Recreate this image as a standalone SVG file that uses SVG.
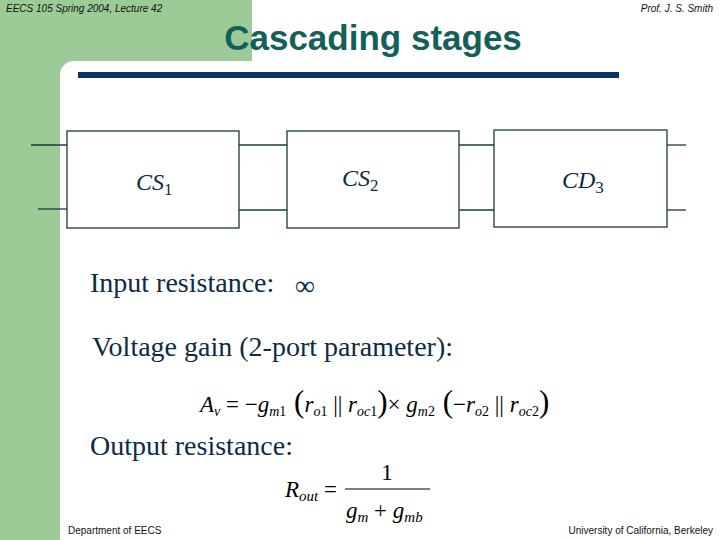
<svg xmlns="http://www.w3.org/2000/svg" width="720" height="540" viewBox="0 0 720 540">
<style>
.hdr{font-family:"Liberation Sans",Arial,sans-serif;font-size:10px;font-style:italic;fill:#111}
.ftr{font-family:"Liberation Sans",Arial,sans-serif;font-size:10px;fill:#111}
.title{font-family:"Liberation Sans",Arial,sans-serif;font-size:35px;font-weight:bold;fill:#13605a}
.body{font-family:"Liberation Serif","Times New Roman",serif;font-size:28px;fill:#0d2b45}
.lbl{font-family:"Liberation Serif","Times New Roman",serif;font-size:24px;fill:#0d2b45}
.eq{font-family:"Liberation Serif","Times New Roman",serif;font-size:23px;fill:#000}
.i{font-style:italic}
.box{fill:#fff;stroke:#1b3a3f;stroke-width:1.3}
.wire{stroke:#1b3a3f;stroke-width:1.3;fill:none}
</style>
<rect x="0" y="0" width="720" height="540" fill="#fff"/>
<g id="background">
<rect x="0" y="0" width="252" height="61" fill="#9ccb98"/>
<rect x="0" y="0" width="60" height="540" fill="#9ccb98"/>
<path d="M60 61 H74 A14 14 0 0 0 60 75 Z" fill="#9ccb98"/>
<rect x="78" y="72" width="541" height="6" fill="#063467"/>
</g>
<text class="hdr" x="6" y="12">EECS 105 Spring 2004, Lecture 42</text>
<text class="hdr" x="713" y="12" text-anchor="end">Prof. J. S. Smith</text>
<text class="title" x="373" y="50" text-anchor="middle">Cascading stages</text>
<g id="connectors">
<line class="wire" x1="31" y1="145" x2="67" y2="145"/>
<line class="wire" x1="38" y1="209" x2="67" y2="209"/>
<line class="wire" x1="239" y1="145" x2="287" y2="145"/>
<line class="wire" x1="239" y1="210" x2="287" y2="210"/>
<line class="wire" x1="459" y1="145" x2="494" y2="145"/>
<line class="wire" x1="459" y1="210" x2="494" y2="210"/>
<line class="wire" x1="667" y1="145" x2="686" y2="145"/>
<line class="wire" x1="667" y1="210" x2="686" y2="210"/>
</g>
<g id="cs1">
<rect class="box" x="67" y="131" width="172" height="97"/>
<text class="lbl" x="136" y="190"><tspan class="i">CS</tspan><tspan font-size="17" dy="5">1</tspan></text>
</g>
<g id="cs2">
<rect class="box" x="287" y="131" width="172" height="97"/>
<text class="lbl" x="342" y="186"><tspan class="i">CS</tspan><tspan font-size="17" dy="5">2</tspan></text>
</g>
<g id="cd3">
<rect class="box" x="494" y="130" width="173" height="97"/>
<text class="lbl" x="562" y="188"><tspan class="i">CD</tspan><tspan font-size="17" dy="5">3</tspan></text>
</g>
<text class="body" x="90" y="292">Input resistance:</text>
<text class="body" x="295" y="295" font-size="30">∞</text>
<text class="body" x="92" y="356">Voltage gain (2-port parameter):</text>
<text class="eq" x="200" y="412"><tspan class="i">A</tspan><tspan class="i" font-size="14" dy="4">v</tspan><tspan dy="-4"> = −</tspan><tspan class="i">g</tspan><tspan class="i" font-size="14" dy="4">m</tspan><tspan font-size="14">1</tspan><tspan dy="-4" font-size="31"> (</tspan><tspan class="i">r</tspan><tspan class="i" font-size="14" dy="4">o</tspan><tspan font-size="14">1</tspan><tspan dy="-4"> || </tspan><tspan class="i">r</tspan><tspan class="i" font-size="14" dy="4">oc</tspan><tspan font-size="14">1</tspan><tspan dy="-4" font-size="31">)</tspan><tspan>× </tspan><tspan class="i">g</tspan><tspan class="i" font-size="14" dy="4">m</tspan><tspan font-size="14">2</tspan><tspan dy="-4" font-size="31"> (</tspan><tspan>−</tspan><tspan class="i">r</tspan><tspan class="i" font-size="14" dy="4">o</tspan><tspan font-size="14">2</tspan><tspan dy="-4"> || </tspan><tspan class="i">r</tspan><tspan class="i" font-size="14" dy="4">oc</tspan><tspan font-size="14">2</tspan><tspan dy="-4" font-size="31">)</tspan></text>
<text class="body" x="90" y="455">Output resistance:</text>
<text class="eq" x="285" y="497" font-size="25"><tspan class="i">R</tspan><tspan class="i" font-size="15" dy="4">out</tspan><tspan dy="-4"> =</tspan></text>
<line x1="345" y1="489" x2="430" y2="489" stroke="#000" stroke-width="1.2"/>
<text class="eq" x="387" y="480" text-anchor="middle" font-size="26">1</text>
<text class="eq" x="346" y="518" font-size="25"><tspan class="i">g</tspan><tspan class="i" font-size="15" dy="4">m</tspan><tspan dy="-4"> + </tspan><tspan class="i">g</tspan><tspan class="i" font-size="15" dy="4">mb</tspan></text>
<text class="ftr" x="68" y="534">Department of EECS</text>
<text class="ftr" x="713" y="534" text-anchor="end">University of California, Berkeley</text>
</svg>
